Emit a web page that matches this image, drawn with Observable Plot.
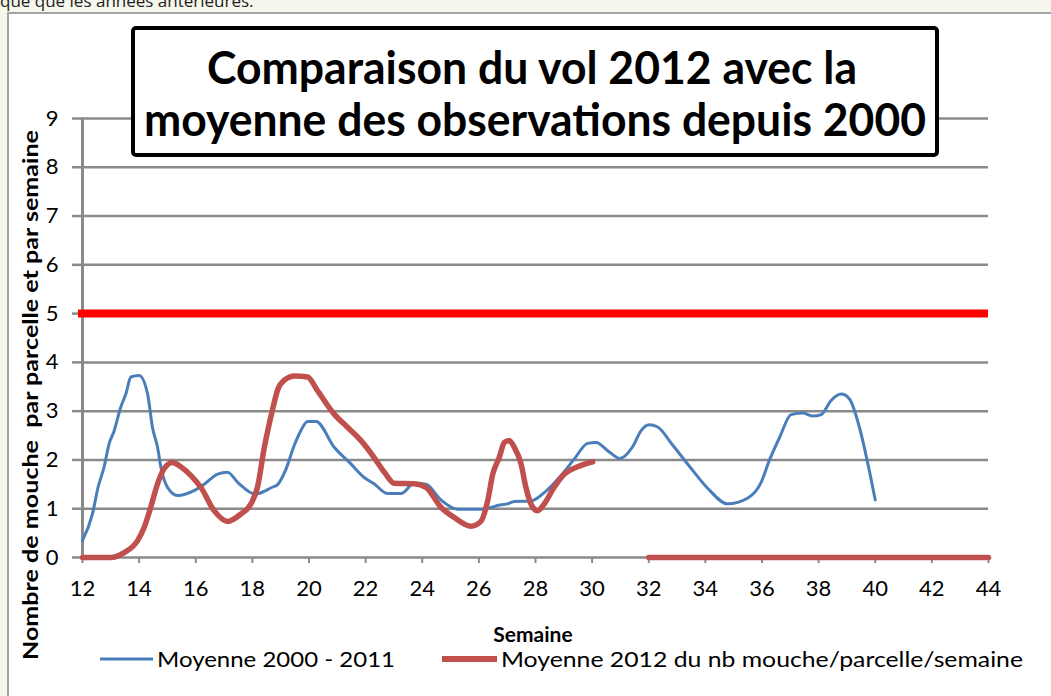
<!DOCTYPE html>
<html>
<head>
<meta charset="utf-8">
<script src="https://cdn.jsdelivr.net/npm/d3@7"></script>
<script src="https://cdn.jsdelivr.net/npm/@observablehq/plot@0.6"></script>
<style>
  html, body { margin: 0; padding: 0; background: #f6f6ec; overflow: hidden; }
  #wrap { position: relative; width: 1051px; height: 696px; }
  #frame { position: absolute; left: 7px; top: 12px; width: 1100px; height: 720px; background: #fff; border: 2px solid #a3a3a3; }
  #topnote { position: absolute; left: 0; top: -11px; font: 17px "Open Sans", sans-serif; color: #222; white-space: nowrap; }
  #chart { position: absolute; left: 0; top: 0; }
</style>
</head>
<body>
<div id="wrap">
  <div id="topnote">que que les années antérieures.</div>
  <div id="frame"></div>
  <div id="chart"></div>
</div>
<script>
// ---- data ----
const titleLines = ["Comparaison du vol 2012 avec la", "moyenne des observations depuis 2000"];
const xLabel = "Semaine";
const yLabel = "Nombre de mouche  par parcelle et par semaine";
const seriesNames = ["Moyenne 2000 - 2011", "Moyenne 2012 du nb mouche/parcelle/semaine"];
const xTicks = [12, 14, 16, 18, 20, 22, 24, 26, 28, 30, 32, 34, 36, 38, 40, 42, 44];
const yTicks = [0, 1, 2, 3, 4, 5, 6, 7, 8, 9];
const threshold = [5];

const weeksAvg = [12.0, 12.35, 12.55, 12.76, 12.94, 13.12, 13.35, 13.53, 13.71, 14.0, 14.3, 14.47, 14.65, 14.77, 15.0, 15.36, 15.94, 16.3, 16.77, 17.12, 17.5, 18.1, 18.7, 18.9, 19.18, 19.48, 19.71, 19.95, 20.25, 20.89, 21.48, 21.95, 22.3, 22.78, 23.25, 23.72, 24.13, 24.66, 25.25, 26.07, 26.78, 27.02, 27.25, 27.84, 28.31, 28.9, 29.37, 29.84, 30.14, 30.55, 30.98, 31.43, 31.73, 32.02, 32.3, 32.85, 33.45, 34.08, 34.79, 35.5, 35.97, 36.26, 36.62, 37.03, 37.44, 37.8, 38.09, 38.44, 38.8, 39.09, 39.44, 39.74, 40.0];
const valuesAvg = [0.35, 0.89, 1.44, 1.85, 2.33, 2.6, 3.08, 3.35, 3.7, 3.73, 3.35, 2.67, 2.26, 1.85, 1.44, 1.27, 1.37, 1.5, 1.71, 1.75, 1.53, 1.3, 1.44, 1.5, 1.8, 2.3, 2.6, 2.79, 2.79, 2.26, 1.92, 1.64, 1.51, 1.31, 1.31, 1.52, 1.5, 1.18, 0.99, 0.99, 1.08, 1.1, 1.15, 1.16, 1.33, 1.68, 2.02, 2.34, 2.36, 2.19, 2.03, 2.27, 2.6, 2.72, 2.68, 2.3, 1.86, 1.42, 1.1, 1.22, 1.54, 1.99, 2.46, 2.93, 2.96, 2.9, 2.93, 3.22, 3.35, 3.25, 2.67, 1.92, 1.18];

const weeks2012 = [12, 13.0, 13.47, 13.94, 14.18, 14.41, 14.65, 14.88, 15.18, 15.47, 15.83, 16.18, 16.65, 17.12, 17.59, 17.95, 18.18, 18.42, 18.7, 18.9, 19.12, 19.5, 19.95, 20.3, 20.89, 21.36, 21.83, 22.3, 22.66, 23.01, 23.72, 24.13, 24.66, 25.13, 25.72, 26.07, 26.31, 26.49, 26.72, 26.9, 27.07, 27.25, 27.49, 27.66, 27.9, 28.08, 28.31, 28.66, 29.02, 29.49, 30.02, 31, 32, 44];
const values2012 = [0, 0, 0.1, 0.34, 0.62, 1.03, 1.51, 1.82, 1.95, 1.86, 1.68, 1.44, 0.96, 0.74, 0.89, 1.1, 1.44, 2.25, 3.0, 3.45, 3.63, 3.72, 3.7, 3.42, 2.94, 2.67, 2.4, 2.05, 1.75, 1.52, 1.51, 1.44, 1.03, 0.82, 0.64, 0.74, 1.16, 1.71, 2.05, 2.36, 2.4, 2.26, 1.92, 1.44, 1.03, 0.96, 1.1, 1.44, 1.71, 1.86, 1.96, NaN, 0, 0];

const colors = ["#4a7ebb", "#c0504d"];
const thresholdColor = "#ff0000";
const gridColor = "#8a8a8a";

const avgData = weeksAvg.map((w, i) => ({week: w, value: valuesAvg[i]}));
const data2012 = weeks2012.map((w, i) => ({week: w, value: values2012[i]}));

const plot = Plot.plot({
  width: 1051,
  height: 696,
  marginLeft: 82,
  marginRight: 63,
  marginTop: 118,
  marginBottom: 139,
  style: {fontFamily: "Lato, sans-serif", fontSize: "22px", color: "#000", background: "transparent", overflow: "visible"},
  x: {domain: [12, 44]},
  y: {domain: [0, 9]},
  marks: [
    Plot.gridY(yTicks, {stroke: gridColor, strokeOpacity: 1, strokeWidth: 2.5}),
    Plot.axisY(yTicks, {tickSize: 10, tickPadding: 14, stroke: gridColor, strokeWidth: 2.5, label: null, fill: "#000"}),
    Plot.axisX(xTicks, {tickSize: 6, tickPadding: 17, stroke: gridColor, strokeWidth: 2, label: null, fill: "#000"}),
    Plot.ruleX([12], {stroke: gridColor, strokeWidth: 3}),
    Plot.ruleY(threshold, {stroke: thresholdColor, strokeWidth: 8, insetLeft: -4}),
    Plot.line(avgData, {x: "week", y: "value", stroke: colors[0], strokeWidth: 3, curve: "monotone-x"}),
    Plot.line(data2012, {x: "week", y: "value", stroke: colors[1], strokeWidth: 5.5, curve: "monotone-x"})
  ]
});
document.getElementById("chart").appendChild(plot);

// ---- decorations: title box, axis labels, legend ----
const svg = d3.select(plot);
const g = svg.append("g").attr("text-anchor", "start");
g.append("rect").attr("x", 133).attr("y", 28).attr("width", 804).attr("height", 127)
  .attr("rx", 3).attr("fill", "#fff").attr("stroke", "#000").attr("stroke-width", 4);
g.append("text").attr("x", 532).attr("y", 84).attr("text-anchor", "middle")
  .attr("font-family", "Lato, sans-serif").attr("font-weight", 700).attr("font-size", 45)
  .attr("textLength", 650).attr("lengthAdjust", "spacingAndGlyphs").text(titleLines[0]);
g.append("text").attr("x", 535).attr("y", 136).attr("text-anchor", "middle")
  .attr("font-family", "Lato, sans-serif").attr("font-weight", 700).attr("font-size", 45)
  .attr("textLength", 782).attr("lengthAdjust", "spacingAndGlyphs").text(titleLines[1]);

g.append("text").attr("transform", "translate(38,395) rotate(-90)").attr("text-anchor", "middle")
  .attr("font-family", "Lato, sans-serif").attr("font-weight", 700).attr("font-size", 21)
  .attr("textLength", 530).attr("lengthAdjust", "spacingAndGlyphs").text(yLabel);

g.append("text").attr("x", 533).attr("y", 642).attr("text-anchor", "middle")
  .attr("font-family", "Lato, sans-serif").attr("font-weight", 700).attr("font-size", 21).text(xLabel);

const legend = [
  {x1: 100, x2: 153, tx: 157, w: 3, len: 238},
  {x1: 442, x2: 497, tx: 501, w: 6, len: 522}
];
legend.forEach((l, i) => {
  g.append("line").attr("x1", l.x1).attr("x2", l.x2).attr("y1", 659).attr("y2", 659)
    .attr("stroke", colors[i]).attr("stroke-width", l.w);
  g.append("text").attr("x", l.tx).attr("y", 667).attr("text-anchor", "start")
    .attr("font-family", "Lato, sans-serif").attr("font-size", 22)
    .attr("textLength", l.len).attr("lengthAdjust", "spacingAndGlyphs").text(seriesNames[i]);
});
</script>
</body>
</html>
